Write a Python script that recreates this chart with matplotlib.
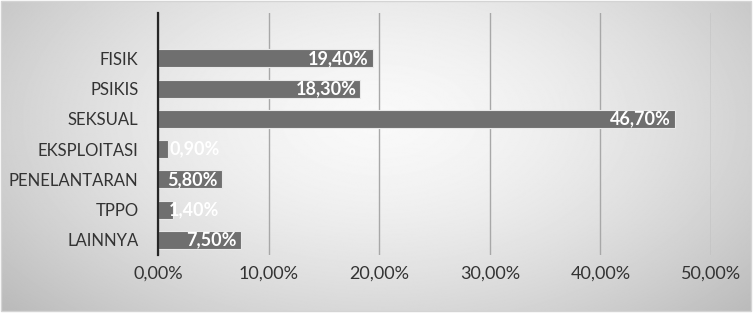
import numpy as np
import matplotlib.pyplot as plt
from matplotlib.patches import Rectangle

categories = ["FISIK", "PSIKIS", "SEKSUAL", "EKSPLOITASI", "PENELANTARAN", "TPPO", "LAINNYA"]
values = [19.4, 18.3, 46.7, 0.9, 5.8, 1.4, 7.5]
xticks = [0, 10, 20, 30, 40, 50]

plt.rcParams['font.family'] = ['Lato', 'DejaVu Sans']

W, H = 754, 314
fig = plt.figure(figsize=(W / 100, H / 100), dpi=100)
fig.patch.set_facecolor('white')

# background: radial grey gradient inside a thin border
bg = fig.add_axes([0, 0, 1, 1], zorder=-5)
bg.set_xlim(0, W)
bg.set_ylim(H, 0)
bg.axis('off')
yy, xx = np.mgrid[0:H, 0:W]
d = np.sqrt(((xx - 380) / 520.0) ** 2 + ((yy - 120) / 300.0) ** 2)
shade = np.clip(0.975 - 0.26 * d ** 1.6, 0.72, 1.0)
bg.imshow(shade, cmap='gray', vmin=0, vmax=1, extent=(1, 751, 311, 1), aspect='auto')
bg.add_patch(Rectangle((1, 1), 750, 310, fill=False, edgecolor='#d4d4d4', lw=1))

ax = fig.add_axes([158 / W, 1 - 255 / H, (711 - 158) / W, (255 - 13) / H])
ax.patch.set_alpha(0)

y = np.arange(len(categories))
ax.barh(y, values, height=0.6, color='#6f6f6f', edgecolor='#e8e8e8', linewidth=0.8, zorder=3)

for yi, v in zip(y, values):
    label = f"{v:.2f}%".replace('.', ',')
    if v < 3:
        ax.annotate(label, (0, yi), xytext=(11, 0), textcoords='offset pixels',
                    ha='left', va='center', color='white', fontsize=13, fontweight='bold', zorder=4)
    else:
        ax.annotate(label, (v, yi), xytext=(-4, 0), textcoords='offset pixels',
                    ha='right', va='center', color='white', fontsize=13, fontweight='bold', zorder=4)

ax.set_xlim(0, 50)
ax.set_ylim(6.5, -1.5)
ax.set_yticks(y)
ax.set_yticklabels(categories)
ax.set_xticks(xticks)
ax.set_xticklabels([f"{t:.2f}%".replace('.', ',') for t in xticks])
ax.tick_params(axis='y', length=0, pad=14, labelsize=12, labelcolor='#333333')
ax.tick_params(axis='x', length=0, pad=8, labelsize=13, labelcolor='#333333')

ax.grid(axis='x', color='#a8a8a8', linewidth=1, zorder=1)
for s in ['top', 'right', 'bottom']:
    ax.spines[s].set_visible(False)
ax.spines['left'].set_color('#262626')
ax.spines['left'].set_linewidth(1.6)
ax.spines['left'].set_zorder(5)

fig.savefig('out.png', dpi=100)
